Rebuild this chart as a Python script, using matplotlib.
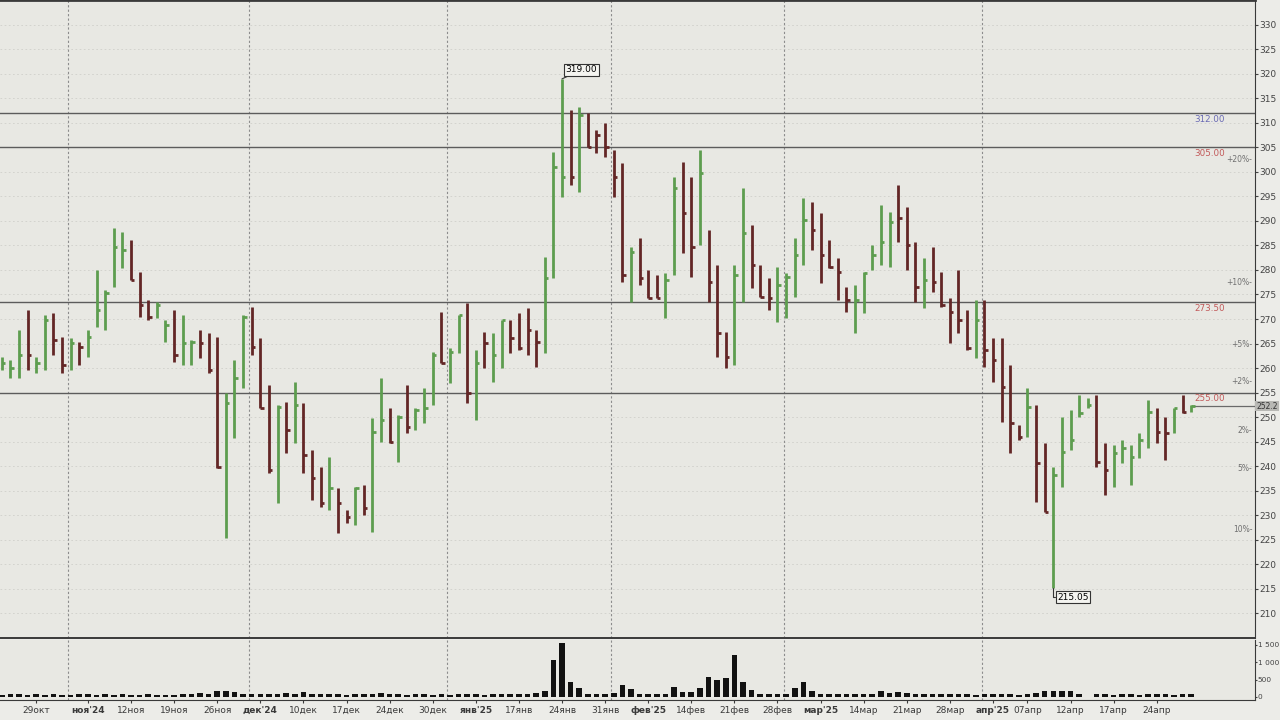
import numpy as np
import matplotlib.pyplot as plt

# дневные бары: максимум, минимум, закрытие
high = [262.2, 261.6, 267.8, 271.8, 262.2, 270.8, 271.2, 266.3, 266.1, 265.3,
        267.8, 280.0, 275.9, 288.6, 287.8, 286.1, 279.6, 273.9, 273.5, 269.8,
        271.8, 270.8, 265.7, 267.8, 267.1, 266.3, 254.9, 261.6, 270.8, 272.4,
        266.1, 256.5, 252.4, 253.1, 257.1, 252.9, 243.3, 239.8, 241.8, 235.5,
        231.0, 235.7, 236.1, 249.8, 258.0, 251.8, 250.4, 256.5, 251.8, 255.9,
        263.3, 271.4, 264.1, 270.8, 273.3, 263.7, 267.3, 267.1, 269.8, 269.8,
        271.2, 272.2, 267.8, 282.7, 304.1, 319.0, 312.7, 313.3, 312.0, 308.6,
        310.0, 304.5, 301.8, 284.7, 286.5, 280.0, 279.0, 279.4, 299.0, 302.0,
        299.0, 304.5, 288.2, 281.0, 267.3, 281.0, 296.7, 289.2, 281.0, 278.4,
        280.6, 279.4, 286.5, 294.7, 293.9, 291.6, 286.1, 282.4, 276.5, 276.9,
        279.6, 285.1, 293.3, 291.8, 297.3, 292.9, 285.7, 282.4, 284.7, 279.6,
        274.3, 280.0, 271.8, 273.9, 273.9, 266.1, 266.1, 260.6, 248.4, 255.9,
        252.4, 244.7, 239.8, 250.0, 251.4, 254.5, 253.9, 254.5, 244.7, 244.3,
        245.3, 244.3, 246.7, 253.5, 251.8, 250.0, 251.8, 254.5, 252.4]
low = [259.6, 258.0, 258.0, 259.6, 259.0, 259.6, 262.7, 259.0, 259.6, 260.6,
       262.2, 268.4, 267.8, 276.5, 280.4, 278.0, 270.4, 269.8, 270.2, 265.3,
       261.2, 260.6, 260.6, 262.0, 259.0, 239.6, 225.3, 245.7, 255.9, 262.7,
       251.8, 238.6, 232.4, 242.7, 244.7, 238.6, 233.1, 231.6, 231.0, 226.3,
       228.4, 228.0, 230.0, 226.5, 244.9, 244.7, 240.8, 246.7, 247.3, 248.8,
       252.4, 261.0, 256.9, 263.1, 252.9, 249.4, 260.0, 257.1, 260.0, 263.1,
       263.7, 262.7, 260.2, 263.1, 278.4, 294.9, 297.3, 295.9, 305.1, 303.9,
       303.1, 294.9, 277.6, 273.5, 276.9, 274.3, 274.3, 270.2, 279.0, 283.5,
       278.6, 285.1, 273.5, 262.2, 260.0, 260.6, 273.5, 276.3, 274.5, 271.8,
       269.4, 270.2, 274.5, 281.0, 284.1, 277.3, 280.4, 273.9, 271.4, 267.1,
       271.2, 280.0, 281.0, 280.6, 285.7, 280.0, 273.5, 272.2, 275.5, 272.4,
       265.1, 267.1, 263.7, 262.0, 260.2, 257.1, 249.0, 242.7, 245.3, 245.9,
       232.7, 230.6, 215.05, 235.7, 243.3, 250.0, 251.8, 239.8, 234.1, 235.7,
       240.6, 236.1, 241.6, 243.7, 244.7, 241.2, 246.7, 250.8, 251.0]
close = [261.0, 260.0, 262.7, 262.7, 261.0, 269.8, 265.7, 260.6, 265.1, 264.3,
         266.3, 271.8, 275.3, 284.7, 284.1, 278.0, 272.9, 270.4, 272.9, 268.8,
         262.7, 265.1, 265.3, 265.1, 259.6, 239.8, 252.9, 258.0, 270.4, 264.3,
         251.8, 239.2, 252.0, 247.3, 252.4, 242.2, 237.6, 232.4, 235.5, 232.4,
         229.6, 235.5, 231.4, 246.9, 249.4, 244.9, 250.0, 248.0, 251.4, 251.8,
         262.7, 261.0, 263.3, 270.8, 254.9, 261.0, 265.1, 262.7, 269.8, 266.1,
         264.1, 267.8, 265.3, 278.4, 301.0, 299.0, 299.0, 311.6, 305.1, 307.6,
         305.1, 299.0, 279.0, 283.7, 278.4, 274.3, 274.3, 278.0, 296.7, 291.6,
         284.7, 299.8, 277.6, 267.1, 262.2, 279.0, 287.6, 281.0, 274.5, 274.3,
         277.0, 278.6, 283.1, 290.2, 288.2, 283.1, 280.6, 279.6, 273.9, 273.9,
         279.4, 283.1, 285.7, 289.8, 290.6, 285.1, 276.5, 278.0, 277.6, 272.9,
         271.4, 269.8, 264.1, 269.8, 263.7, 261.6, 256.1, 248.8, 245.9, 252.0,
         240.6, 230.6, 238.2, 242.9, 245.3, 250.8, 252.4, 240.8, 239.2, 242.7,
         243.7, 241.8, 245.3, 251.0, 246.9, 246.7, 251.8, 251.0, 252.2]
# g - растущий бар, r - падающий
side = ("gggrggrrgr" "gggggrrrgg" "rggrrrgggr" "rrgrgrrrgr" "rgrggrgrgg"
        "grggrgrggr" "rrrgggrgrr" "rrrgrrrggr" "rgrrrggrrr" "ggggrrrrrg"
        "ggggrrrgrr" "rrrgrrrrrg" "rrgggggrrg" "ggggrrgrg")
# объём, тыс.
volume = [60, 80, 90, 70, 80, 60, 90, 60, 70, 80,
          100, 60, 100, 70, 90, 60, 70, 80, 60, 70,
          70, 80, 90, 120, 90, 170, 170, 150, 90, 100,
          100, 80, 90, 110, 90, 150, 90, 80, 90, 80,
          70, 90, 80, 100, 110, 90, 80, 70, 90, 80,
          70, 80, 60, 90, 80, 90, 70, 80, 90, 100,
          90, 100, 120, 160, 1070, 1550, 420, 250, 100, 80,
          90, 110, 360, 240, 90, 80, 80, 90, 280, 150,
          150, 250, 580, 500, 540, 1200, 420, 200, 100, 90,
          90, 80, 250, 420, 180, 90, 100, 90, 80, 90,
          100, 90, 160, 120, 150, 110, 90, 80, 100, 90,
          80, 90, 80, 70, 90, 80, 100, 80, 70, 100,
          120, 180, 160, 180, 170, 80, 0, 80, 90, 70,
          80, 90, 70, 80, 90, 80, 70, 80, 90]

date_pos = [4, 10, 15, 20, 25, 30, 35, 40, 45, 50, 55, 60, 65, 70, 75, 80, 85,
            90, 95, 100, 105, 110, 115, 119, 124, 129, 134]
date_lbl = ["29окт", "ноя'24", "12ноя", "19ноя", "26ноя", "дек'24", "10дек",
            "17дек", "24дек", "30дек", "янв'25", "17янв", "24янв", "31янв",
            "фев'25", "14фев", "21фев", "28фев", "мар'25", "14мар", "21мар",
            "28мар", "апр'25", "07апр", "12апр", "17апр", "24апр"]
month_first = [8, 29, 52, 71, 91, 114]

levels = [312.0, 305.0, 273.5, 255.0]
level_txt = ["312.00", "305.00", "273.50", "255.00"]
level_col = ["#6a6ab4", "#c25a5a", "#c25a5a", "#c25a5a"]
last_price = 252.2
pct_marks = [20, 10, 5, 2, -2, -5, -10]
pct_txt = ["+20%", "+10%", "+5%", "+2%", "2%", "5%", "10%"]
vol_ticks = [0, 500, 1000, 1500]
vol_lbl = ["0", "500", "1 000", "1 500"]

bg = "#e8e8e3"
fig = plt.figure(figsize=(12.8, 7.2), dpi=100, facecolor="#ecece8")
ax = fig.add_axes([0, 82 / 720, 1255 / 1280, 638 / 720], facecolor=bg)
axv = fig.add_axes([0, 20 / 720, 1255 / 1280, 60 / 720], facecolor=bg, sharex=ax)

idx = np.arange(len(close))
cols = ["#5d9d4f" if s == "g" else "#632626" for s in side]

# сетка
for p in range(210, 335, 5):
    ax.axhline(p, color="#cfcfca", lw=0.6, ls=(0, (2, 3)), zorder=0)
for m in month_first:
    ax.axvline(m - 0.3, color="#8c8c8c", lw=0.8, ls=(0, (2, 2)), zorder=1)
    axv.axvline(m - 0.3, color="#8c8c8c", lw=0.8, ls=(0, (2, 2)), zorder=1)

# уровни
for lv, t, c in zip(levels, level_txt, level_col):
    ax.axhline(lv, color="#5c5c5c", lw=1.0, zorder=2)
    ax.text(0.964, lv - 1.3, t, transform=ax.get_yaxis_transform(), color=c,
            fontsize=6.3, ha="center", va="center")
for p, t in zip(pct_marks, pct_txt):
    ax.text(0.998, last_price * (1 + p / 100), t + "-", transform=ax.get_yaxis_transform(),
            color="#707070", fontsize=5.5, ha="right", va="center")
ax.hlines(last_price, idx[-1], 145.5, color="#6a6a6a", lw=0.9, zorder=2)

# бары
ax.vlines(idx, low, high, colors=cols, lw=2.0, zorder=3)
ax.hlines(close, idx, idx + 0.4, colors=cols, lw=2.0, zorder=3)

imax = int(np.argmax(high))
imin = int(np.argmin(low))
box = dict(boxstyle="square,pad=0.15", fc="#f4f4f0", ec="#333333", lw=0.8)
ax.annotate(f"{high[imax]:.2f}", xy=(imax, high[imax]), xytext=(14, 6.5),
            textcoords="offset points", fontsize=6.5, ha="center", va="center",
            bbox=box, arrowprops=dict(arrowstyle="-", color="#333333", lw=0.8,
                                      shrinkA=0, shrinkB=0))
ax.annotate(f"{low[imin]:.2f}", xy=(imin, low[imin]), xytext=(14, -6.5),
            textcoords="offset points", fontsize=6.5, ha="center", va="center",
            bbox=box, arrowprops=dict(arrowstyle="-", color="#333333", lw=0.8,
                                      shrinkA=0, shrinkB=0,
                                      connectionstyle="angle,angleA=0,angleB=90,rad=0"))

ax.set_xlim(-0.2, 145.4)
ax.set_ylim(204.9, 335.1)
ax.yaxis.tick_right()
ax.set_yticks(range(210, 335, 5))
ax.tick_params(axis="y", labelsize=6.5, colors="#444444", length=2, pad=1)
ax.tick_params(axis="x", bottom=False, labelbottom=False)
ax.text(1.001, last_price, "252.2", transform=ax.get_yaxis_transform(), fontsize=5.5,
        ha="left", va="center", color="#333333",
        bbox=dict(boxstyle="square,pad=0.1", fc="#b8b8b4", ec="none"))
ax.spines["left"].set_visible(False)
for s in ["top", "bottom", "right"]:
    ax.spines[s].set_color("#3a3a3a")
ax.spines["top"].set_linewidth(2)
ax.spines["bottom"].set_linewidth(1.4)

# объём
axv.bar(idx, volume, width=0.65, color="#111111", zorder=3)
axv.set_ylim(-87, 1644)
axv.yaxis.tick_right()
axv.set_yticks(vol_ticks)
axv.set_yticklabels(vol_lbl)
axv.tick_params(axis="y", labelsize=5.3, colors="#444444", length=1.5, pad=0.5)
axv.set_xticks(date_pos)
axv.set_xticklabels(date_lbl)
axv.tick_params(axis="x", labelsize=6.5, colors="#3a3a3a", length=2, pad=2)
for t in axv.get_xticklabels():
    if "'" in t.get_text():
        t.set_fontweight("bold")
axv.spines["left"].set_visible(False)
axv.spines["top"].set_visible(False)
for s in ["bottom", "right"]:
    axv.spines[s].set_color("#3a3a3a")

fig.savefig("out.png", dpi=100, facecolor=fig.get_facecolor())
